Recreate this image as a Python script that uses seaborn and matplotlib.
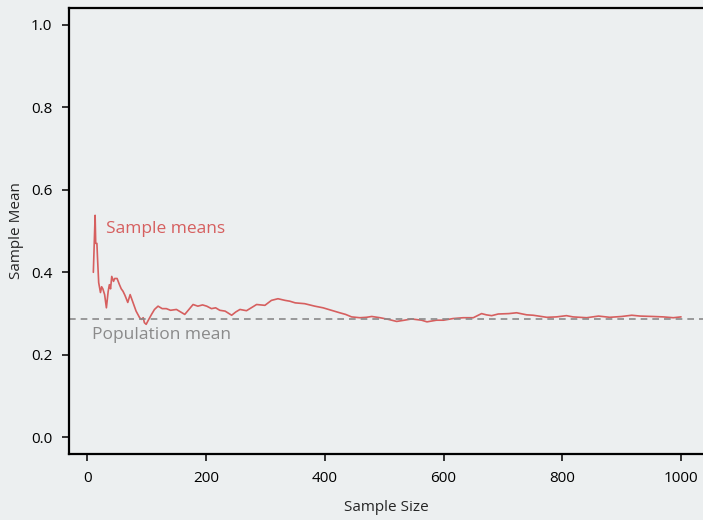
import matplotlib
matplotlib.use("Agg")
import matplotlib.pyplot as plt
import seaborn as sns
import pandas as pd

sample_size = [10, 13, 14, 16, 17, 19, 22, 24, 26, 29, 32, 35, 37, 39, 41, 44, 46, 50,
               54, 57, 60, 63, 65, 68, 72, 77, 82, 88, 91, 94, 96, 99, 103, 108, 113,
               119, 126, 133, 140, 150, 157, 164, 171, 178, 186, 194, 201, 209, 216,
               223, 232, 243, 250, 257, 268, 276, 285, 299, 310, 321, 333, 341, 350,
               366, 383, 397, 411, 425, 435, 445, 459, 470, 479, 493, 507, 521, 534,
               546, 563, 572, 588, 600, 616, 633, 650, 664, 672, 681, 692, 710, 723,
               740, 751, 774, 790, 807, 818, 841, 861, 880, 900, 917, 931, 953, 970,
               987, 1000]
sample_mean = [0.400, 0.538, 0.470, 0.470, 0.436, 0.375, 0.351, 0.365, 0.360, 0.346,
               0.314, 0.354, 0.370, 0.360, 0.390, 0.378, 0.385, 0.385, 0.370, 0.360,
               0.354, 0.345, 0.338, 0.327, 0.346, 0.326, 0.306, 0.290, 0.286, 0.290,
               0.278, 0.274, 0.285, 0.298, 0.310, 0.318, 0.312, 0.312, 0.308, 0.310,
               0.304, 0.298, 0.310, 0.322, 0.318, 0.321, 0.318, 0.312, 0.314, 0.308,
               0.306, 0.296, 0.304, 0.310, 0.307, 0.314, 0.322, 0.320, 0.332, 0.336,
               0.332, 0.330, 0.326, 0.324, 0.318, 0.314, 0.308, 0.302, 0.298, 0.292,
               0.290, 0.291, 0.293, 0.290, 0.286, 0.281, 0.284, 0.287, 0.284, 0.280,
               0.284, 0.284, 0.288, 0.290, 0.290, 0.300, 0.297, 0.295, 0.299, 0.300,
               0.302, 0.297, 0.296, 0.291, 0.292, 0.295, 0.292, 0.290, 0.294, 0.291,
               0.293, 0.296, 0.294, 0.293, 0.292, 0.290, 0.292]
population_mean = 0.286

x_ticks = [0, 200, 400, 600, 800, 1000]
y_ticks = [0.0, 0.2, 0.4, 0.6, 0.8, 1.0]

bg = "#eceff0"
red = "#d65f5f"
gray = "#8a8a8a"

sns.set_style("ticks", {"axes.facecolor": bg, "figure.facecolor": bg})
plt.rcParams["font.family"] = ["Open Sans", "DejaVu Sans"]

fig = plt.figure(figsize=(7.03, 5.2), dpi=100)
ax = fig.add_axes([69 / 703, (520 - 454) / 520, (703 - 69) / 703, (454 - 8) / 520])

df = pd.DataFrame({"Sample Size": sample_size, "Sample Mean": sample_mean})
sns.lineplot(data=df, x="Sample Size", y="Sample Mean", color=red, lw=1.2, ax=ax)
ax.axhline(population_mean, color=gray, lw=1.2, dashes=(4, 3))

ax.text(31, 0.504, "Sample means", color=red, fontsize=12.5, va="center", ha="left")
ax.text(8, 0.247, "Population mean", color=gray, fontsize=12.5, va="center", ha="left")

ax.set_xlim(-31, 1037)
ax.set_ylim(-0.04, 1.04)
ax.set_xticks(x_ticks)
ax.set_yticks(y_ticks)
ax.set_yticklabels([f"{t:.1f}" for t in y_ticks])
ax.tick_params(labelsize=11, length=5, width=1.1, colors="black", pad=7)
ax.set_xlabel("Sample Size", fontsize=11, labelpad=10)
ax.set_ylabel("Sample Mean", fontsize=11, labelpad=5)

for s in ["left", "bottom", "top"]:
    ax.spines[s].set_visible(True)
    ax.spines[s].set_linewidth(1.6)
    ax.spines[s].set_color("black")
ax.spines["right"].set_visible(False)

fig.savefig("out.png", dpi=100, facecolor=bg)
